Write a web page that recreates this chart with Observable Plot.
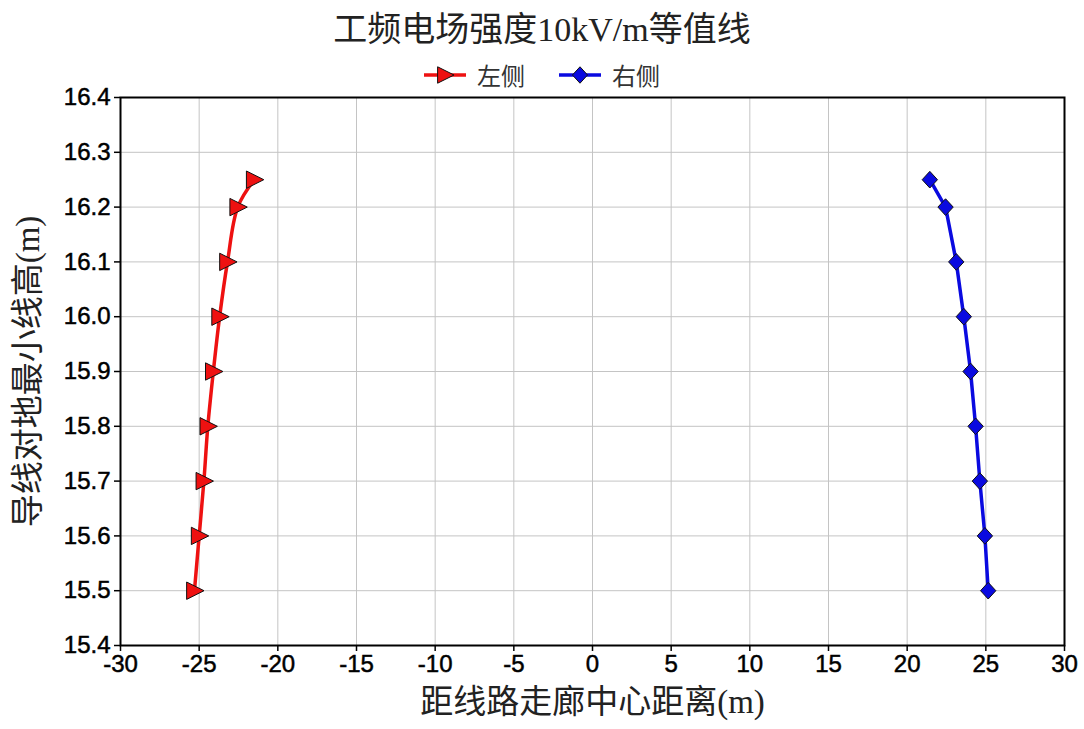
<!DOCTYPE html>
<html>
<head>
<meta charset="utf-8">
<script src="https://cdn.jsdelivr.net/npm/d3@7"></script>
<script src="https://cdn.jsdelivr.net/npm/@observablehq/plot@0.6"></script>
<style>
  body { margin: 0; background: #fff; }
  #wrap { position: relative; width: 1084px; height: 729px; }
  #head { position: relative; height: 80px; }
  #title { position: absolute; left: 0; width: 1084px; top: 10px; text-align: center;
    font-family: "Liberation Serif", "Noto Sans CJK SC", serif; font-size: 34px; color: #222; line-height: 40px; }
  #legend { position: absolute; left: 0; width: 1084px; top: 60px; display: flex; justify-content: center;
    align-items: center; font-family: "Noto Sans CJK SC", sans-serif; font-size: 24px; color: #333; line-height: 30px; z-index: 2; }
  #legend .item { display: flex; align-items: center; }
  #legend .item + .item { margin-left: 34px; }
  #legend svg { margin-right: 11px; }
  #chart { position: absolute; top: 80px; left: 0; }
</style>
</head>
<body>
<div id="wrap">
  <div id="head">
    <div id="title"></div>
    <div id="legend"></div>
  </div>
  <div id="chart"></div>
</div>
<script>
// Chart text
const titleText = "工频电场强度10kV/m等值线";
const xLabel = "距线路走廊中心距离(m)";
const yLabel = "导线对地最小线高(m)";
const seriesNames = ["左侧", "右侧"];
const seriesColors = ["#ee1111", "#0a0ae0"];

// Minimum conductor height (m) at each contour point
const heights = [15.5, 15.6, 15.7, 15.8, 15.9, 16.0, 16.1, 16.2, 16.25];
// Distance from corridor centre (m) where the field reaches 10 kV/m
const leftX = [-25.3, -25.0, -24.7, -24.45, -24.1, -23.7, -23.2, -22.55, -21.5];
const rightX = [25.15, 24.94, 24.62, 24.35, 24.03, 23.6, 23.12, 22.44, 21.44];

// Axis ticks
const xTicks = [-30, -25, -20, -15, -10, -5, 0, 5, 10, 15, 20, 25, 30];
const yTicks = [15.4, 15.5, 15.6, 15.7, 15.8, 15.9, 16.0, 16.1, 16.2, 16.3, 16.4];

const leftData = heights.map((h, i) => ({x: leftX[i], y: h}));
const rightData = heights.map((h, i) => ({x: rightX[i], y: h}));

// Marker shapes: right-pointing triangle and square diamond
const triangleRight = {
  draw(ctx, size) {
    const s = Math.sqrt(size);
    ctx.moveTo(s * 0.55, 0);
    ctx.lineTo(-s * 0.45, -s * 0.5);
    ctx.lineTo(-s * 0.45, s * 0.5);
    ctx.closePath();
  }
};
const diamond = {
  draw(ctx, size) {
    const s = Math.sqrt(size);
    ctx.moveTo(0, -s * 0.5);
    ctx.lineTo(s * 0.46, 0);
    ctx.lineTo(0, s * 0.5);
    ctx.lineTo(-s * 0.46, 0);
    ctx.closePath();
  }
};

document.getElementById("title").textContent = titleText;

// Legend
const legend = document.getElementById("legend");
[[triangleRight, 0], [diamond, 1]].forEach(([sym, i]) => {
  const item = document.createElement("div");
  item.className = "item";
  const sv = d3.create("svg").attr("width", 42).attr("height", 22);
  sv.append("line").attr("x1", 0).attr("x2", 42).attr("y1", 11).attr("y2", 11)
    .attr("stroke", seriesColors[i]).attr("stroke-width", 3.5);
  sv.append("path").attr("transform", "translate(21,11)")
    .attr("d", d3.symbol(sym, 270)())
    .attr("fill", seriesColors[i]).attr("stroke", "#111").attr("stroke-width", 1);
  item.appendChild(sv.node());
  const t = document.createElement("span");
  t.textContent = seriesNames[i];
  item.appendChild(t);
  legend.appendChild(item);
});

const tickFont = "Liberation Sans, Arial, sans-serif";
const labelFont = "Liberation Serif, Noto Sans CJK SC, serif";

const chart = Plot.plot({
  width: 1084,
  height: 649,
  marginTop: 17,
  marginBottom: 84,
  marginLeft: 120,
  marginRight: 20,
  style: {background: "transparent", overflow: "visible", color: "#000", fontFamily: tickFont},
  x: {domain: [-30, 30]},
  y: {domain: [15.4, 16.4]},
  marks: [
    Plot.gridX(xTicks, {stroke: "#c4c4c4", strokeOpacity: 1, strokeWidth: 1}),
    Plot.gridY(yTicks, {stroke: "#c4c4c4", strokeOpacity: 1, strokeWidth: 1}),
    Plot.axisX({ticks: xTicks, tickSize: 6, tickPadding: 3, tickFormat: d => String(d),
      label: null, fontSize: 24, stroke: "#000", strokeWidth: 1.5}),
    Plot.axisY({ticks: yTicks, tickSize: 6, tickPadding: 4, tickFormat: d => d.toFixed(1),
      label: null, fontSize: 24, stroke: "#000", strokeWidth: 1.5}),
    Plot.frame({stroke: "#000", strokeWidth: 2}),
    Plot.line(leftData, {x: "x", y: "y", curve: "catmull-rom", stroke: seriesColors[0], strokeWidth: 3.5}),
    Plot.line(rightData, {x: "x", y: "y", stroke: seriesColors[1], strokeWidth: 3.5}),
    Plot.dot(leftData, {x: "x", y: "y", symbol: triangleRight, r: 9.8, fill: seriesColors[0], stroke: "#111", strokeWidth: 1}),
    Plot.dot(rightData, {x: "x", y: "y", symbol: diamond, r: 9.4, fill: seriesColors[1], stroke: "#111", strokeWidth: 1}),
    Plot.text([xLabel], {frameAnchor: "bottom", dy: 67, fontSize: 33, fontFamily: labelFont, fill: "#222"}),
    Plot.text([yLabel], {frameAnchor: "left", dx: -92, rotate: -90, textAnchor: "middle", fontSize: 33, fontFamily: labelFont, fill: "#222"})
  ]
});

// Heavier numeric tick labels
d3.select(chart).selectAll("text")
  .filter(function () { return /^-?[\d.]+$/.test(this.textContent.trim()); })
  .style("font-size", "24px")
  .style("font-family", tickFont)
  .style("fill", "#000")
  .style("stroke", "#000")
  .style("stroke-width", "0.5px");

document.getElementById("chart").appendChild(chart);
</script>
</body>
</html>
